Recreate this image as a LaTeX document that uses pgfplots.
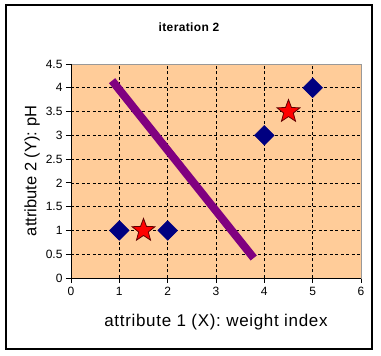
\documentclass[border=0pt]{standalone}
\usepackage{pgfplots}
\pgfplotsset{compat=1.18}
\usepackage{fontspec}
\setmainfont{Liberation Sans}
\newfontfamily\spaced[LetterSpace=4]{Liberation Sans}
\newfontfamily\tspaced[LetterSpace=3]{Liberation Sans}
\definecolor{peach}{HTML}{FFCC99}
\definecolor{navy}{HTML}{000080}
\definecolor{purp}{HTML}{800080}
\definecolor{starline}{HTML}{600000}
\pgfdeclareplotmark{fstar}{%
  \pgfpathmoveto{\pgfpointpolar{90}{\pgfplotmarksize}}%
  \pgfpathlineto{\pgfpointpolar{126}{0.42\pgfplotmarksize}}%
  \pgfpathlineto{\pgfpointpolar{162}{\pgfplotmarksize}}%
  \pgfpathlineto{\pgfpointpolar{198}{0.42\pgfplotmarksize}}%
  \pgfpathlineto{\pgfpointpolar{234}{\pgfplotmarksize}}%
  \pgfpathlineto{\pgfpointpolar{270}{0.42\pgfplotmarksize}}%
  \pgfpathlineto{\pgfpointpolar{306}{\pgfplotmarksize}}%
  \pgfpathlineto{\pgfpointpolar{342}{0.42\pgfplotmarksize}}%
  \pgfpathlineto{\pgfpointpolar{18}{\pgfplotmarksize}}%
  \pgfpathlineto{\pgfpointpolar{54}{0.42\pgfplotmarksize}}%
  \pgfpathclose
  \pgfusepathqfillstroke}
\begin{document}
\begin{tikzpicture}
\path[use as bounding box] (0,0) rectangle (381pt,356pt);
\fill[white] (0,0) rectangle (381pt,356pt);
\draw[line width=1.2pt] (6pt,7pt) rectangle (372pt,351pt);
\node[font=\tspaced\bfseries\fontsize{12}{14}\selectfont] at (189pt,329pt) {iteration 2};
\begin{axis}[
  at={(71pt,78pt)}, anchor=origin,
  scale only axis, width=290pt, height=214pt,
  xmin=0, xmax=6, ymin=0, ymax=4.5,
  xtick={0,1,2,3,4,5,6},
  ytick={0,0.5,1,1.5,2,2.5,3,3.5,4,4.5},
  grid=major,
  grid style={black, dash pattern=on 3pt off 2.5pt, line width=0.7pt},
  axis background/.style={fill=peach},
  axis line style={draw=gray!80, line width=0.8pt},
  tick align=outside, xtick pos=bottom, ytick pos=left,
  major tick length=5pt,
  tick style={black, line width=0.8pt},
  ticklabel style={font=\fontsize{12}{14}\selectfont},
  xticklabel style={yshift=-1pt},
  /pgf/number format/assume math mode=true,
  /pgf/number format/fixed,
  clip=false,
]
\addplot[purp, line width=8pt, line cap=butt] coordinates {(0.85,4.15) (3.78,0.42)};
\addplot[only marks, mark=square*, mark size=7pt, mark options={rotate=45, fill=navy, draw=navy}] coordinates {(1,1) (2,1) (4,3) (5,4)};
\addplot[only marks, mark=fstar, mark size=12pt, mark options={fill=red, draw=starline, line width=0.8pt}] coordinates {(1.5,1) (4.5,3.5)};
\draw[black, line width=0.9pt] (rel axis cs:0,1) -- (rel axis cs:0,0) -- (rel axis cs:1,0);
\end{axis}
\node[font=\spaced\fontsize{17}{20}\selectfont] at (216pt,34pt) {attribute 1 (X): weight index};
\node[font=\fontsize{16.5}{19}\selectfont, rotate=90] at (32pt,185pt) {attribute 2 (Y): pH};
\end{tikzpicture}
\end{document}
